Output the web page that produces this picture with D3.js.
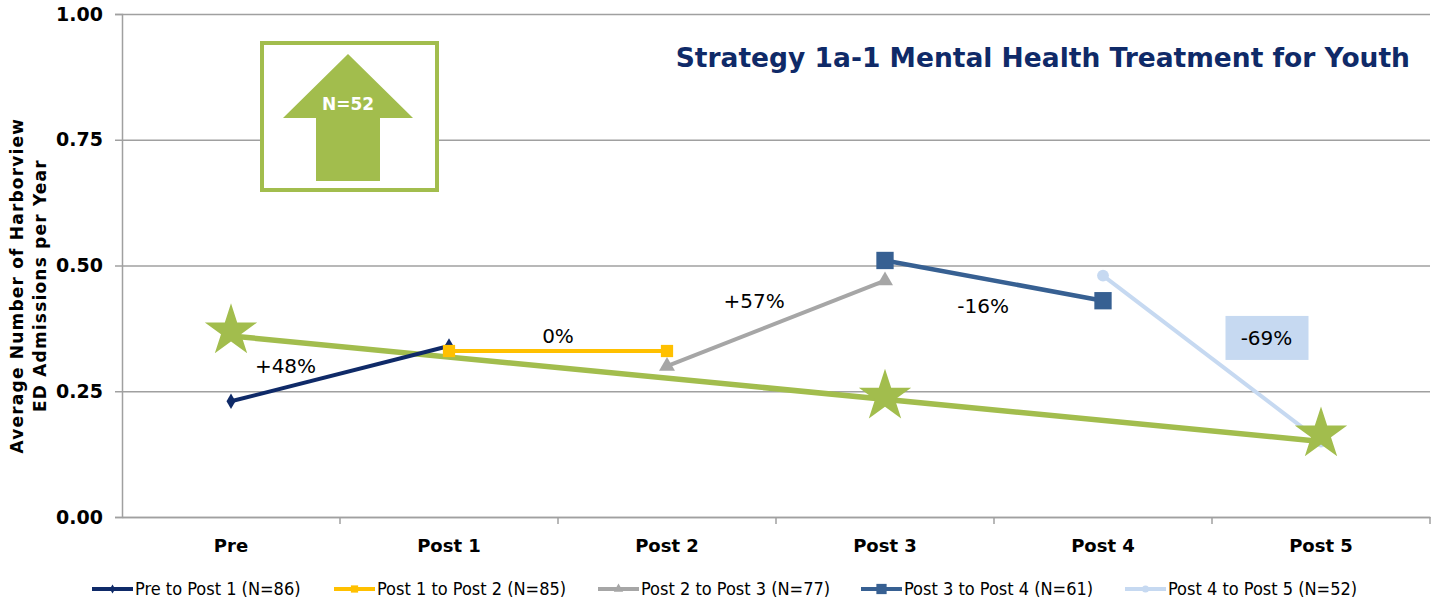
<!DOCTYPE html>
<html>
<head>
<meta charset="utf-8">
<script src="https://cdn.jsdelivr.net/npm/d3@7"></script>
<style>
  body { margin: 0; background: #fff; }
  svg { display: block; font-family: "DejaVu Sans", Verdana, sans-serif; }
</style>
</head>
<body>
<div id="chart"></div>
<script>
const W = 1440, H = 607;
const periods = ["Pre", "Post 1", "Post 2", "Post 3", "Post 4", "Post 5"];
const yTicks = [0, 0.25, 0.5, 0.75, 1.0];

// each cohort segment: start period, end period, values
const seriesNames = ["Pre to Post 1 (N=86)", "Post 1 to Post 2 (N=85)", "Post 2 to Post 3 (N=77)", "Post 3 to Post 4 (N=61)", "Post 4 to Post 5 (N=52)"];
const seriesPeriods = [["Pre", "Post 1"], ["Post 1", "Post 2"], ["Post 2", "Post 3"], ["Post 3", "Post 4"], ["Post 4", "Post 5"]];
const seriesValues = [[0.23, 0.34], [0.33, 0.33], [0.30, 0.47], [0.51, 0.43], [0.48, 0.15]];
const changeLabels = ["+48%", "0%", "+57%", "-16%", "-69%"];

// N=52 cohort trend
const trendPeriods = ["Pre", "Post 5"];
const trendValues = [0.36, 0.15];
const starPeriods = ["Pre", "Post 3", "Post 5"];
const starValues = [0.37, 0.24, 0.165];

const colors = ["#0F2A68", "#FFC000", "#A6A6A6", "#376092", "#C6D9F1"];
const markers = [d3.symbolDiamond, d3.symbolSquare, d3.symbolTriangle, d3.symbolSquare, d3.symbolCircle];
const markerSizes = [70, 150, 110, 300, 110];
const green = "#A2BD4D";

const svg = d3.select("#chart").append("svg").attr("width", W).attr("height", H);
const margin = { left: 122, right: 10, top: 14, bottom: 90 };

const x = d3.scaleBand().domain(periods).range([margin.left, W - margin.right]);
const y = d3.scaleLinear().domain([0, 1]).range([H - margin.bottom, margin.top]);
const cx = p => x(p) + x.bandwidth() / 2;

// gridlines
svg.append("g")
  .attr("transform", `translate(${margin.left},0)`)
  .call(d3.axisLeft(y).tickValues(yTicks).tickSize(-(W - margin.left - margin.right)).tickFormat(""))
  .call(g => g.select(".domain").remove())
  .call(g => g.selectAll("line").attr("stroke", "#A0A0A0").attr("stroke-width", 1.5));

// y axis
svg.append("g")
  .attr("transform", `translate(${margin.left},0)`)
  .call(d3.axisLeft(y).tickValues(yTicks).tickSize(7).tickPadding(12).tickFormat(d3.format(".2f")))
  .call(g => g.select(".domain").attr("stroke", "#A0A0A0").attr("stroke-width", 1.5))
  .call(g => g.selectAll("line").attr("stroke", "#A0A0A0").attr("stroke-width", 1.5))
  .call(g => g.selectAll("text").attr("font-size", 19).attr("font-weight", "bold").attr("fill", "#000")
    .attr("font-family", "DejaVu Sans, sans-serif"));

// x axis
const xAxis = svg.append("g").attr("transform", `translate(0,${y(0)})`)
  .call(d3.axisBottom(x).tickSize(0).tickPadding(22))
  .call(g => g.select(".domain").attr("stroke", "#A0A0A0").attr("stroke-width", 1.5))
  .call(g => g.selectAll("text").attr("font-size", 18).attr("font-weight", "bold").attr("fill", "#000")
    .attr("font-family", "DejaVu Sans, sans-serif"));
xAxis.selectAll(".sep").data(periods).enter().append("line")
  .attr("x1", d => x(d) + x.bandwidth()).attr("x2", d => x(d) + x.bandwidth())
  .attr("y1", 0).attr("y2", 7).attr("stroke", "#A0A0A0").attr("stroke-width", 1.5);

// y title
const yt = svg.append("text")
  .attr("transform", `translate(23,${y(0.46)}) rotate(-90)`)
  .attr("text-anchor", "middle").attr("font-size", 17).attr("font-weight", "bold")
  .attr("letter-spacing", 1.2).attr("fill", "#000");
yt.append("tspan").attr("x", 0).attr("dy", 0).text("Average Number of Harborview");
yt.append("tspan").attr("x", 0).attr("dy", 23).text("ED Admissions per Year");

// title
svg.append("text").attr("x", 1410).attr("y", 67).attr("text-anchor", "end")
  .attr("font-size", 26.5).attr("font-weight", "bold").attr("fill", "#0F2A68")
  .text("Strategy 1a-1 Mental Health Treatment for Youth");

// arrow box
svg.append("rect").attr("x", 262).attr("y", 43).attr("width", 175).attr("height", 147)
  .attr("fill", "#fff").attr("stroke", green).attr("stroke-width", 4);
svg.append("path")
  .attr("d", "M348,54 L413,118 L380,118 L380,181 L316,181 L316,118 L283,118 Z")
  .attr("fill", green);
svg.append("text").attr("x", 348).attr("y", 110).attr("text-anchor", "middle")
  .attr("font-size", 17).attr("font-weight", "bold").attr("fill", "#fff").text("N=52");

const line = d3.line().x(d => cx(d[0])).y(d => y(d[1]));

// trend
svg.append("path")
  .datum(trendPeriods.map((p, i) => [p, trendValues[i]]))
  .attr("d", line).attr("fill", "none").attr("stroke", green).attr("stroke-width", 5.5);

// cohort series
seriesNames.forEach((name, i) => {
  const pts = seriesPeriods[i].map((p, j) => [p, seriesValues[i][j]]);
  const g = svg.append("g");
  g.append("path").datum(pts).attr("d", line).attr("fill", "none")
    .attr("stroke", colors[i]).attr("stroke-width", i === 3 ? 4.5 : 4);
  g.selectAll("path.m").data(pts).enter().append("path").attr("class", "m")
    .attr("transform", d => `translate(${cx(d[0])},${y(d[1])})`)
    .attr("d", d3.symbol().type(markers[i]).size(markerSizes[i]))
    .attr("fill", colors[i]);
});

// stars
svg.selectAll(".star").data(starPeriods.map((p, i) => [p, starValues[i]])).enter().append("path")
  .attr("transform", d => `translate(${cx(d[0])},${y(d[1])})`)
  .attr("d", d3.symbol().type(d3.symbolStar).size(850))
  .attr("fill", green);

// change labels
const labelPos = [[0.25, 0.30], [1.5, 0.36], [2.4, 0.43], [3.45, 0.42], [4.75, 0.356]];
labelPos.forEach((lp, i) => {
  const lx = x.range()[0] + x.bandwidth() * (lp[0] + 0.5);
  const ly = y(lp[1]);
  if (i === 4) {
    svg.append("rect").attr("x", lx - 41).attr("y", ly - 22).attr("width", 83).attr("height", 44).attr("fill", "#C6D9F1");
  }
  svg.append("text").attr("x", lx).attr("y", ly).attr("dy", "0.35em").attr("text-anchor", "middle")
    .attr("font-size", 20).attr("fill", "#000").text(changeLabels[i]);
});

// legend
const legendX = [92, 334, 598, 861, 1125];
const lg = svg.append("g").attr("transform", "translate(0,589)");
seriesNames.forEach((name, i) => {
  const g = lg.append("g").attr("transform", `translate(${legendX[i]},0)`);
  g.append("line").attr("x1", 0).attr("x2", 41).attr("stroke", colors[i]).attr("stroke-width", 4);
  g.append("path").attr("transform", "translate(20.5,0)")
    .attr("d", d3.symbol().type(markers[i]).size(markerSizes[i] * 0.35)).attr("fill", colors[i]);
  g.append("text").attr("x", 43).attr("dy", "0.35em").attr("font-size", 18)
    .attr("font-family", "DejaVu Sans Condensed, sans-serif").attr("fill", "#000").text(name);
});
</script>
</body>
</html>
